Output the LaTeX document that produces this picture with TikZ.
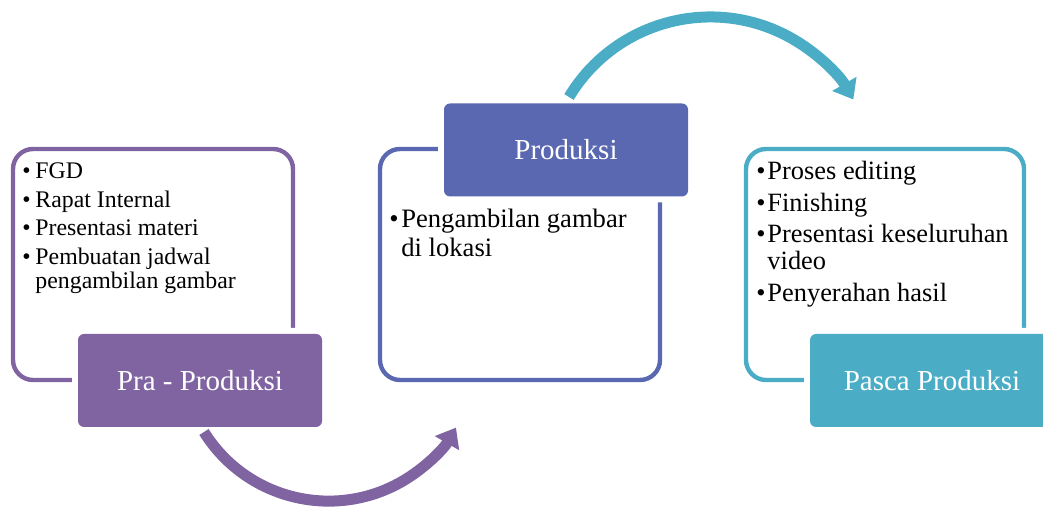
\documentclass[tikz,border=0pt]{standalone}
\usepackage{xcolor}
\usepackage{fontspec}
\setmainfont{Liberation Serif}
\usetikzlibrary{arrows.meta}
\definecolor{praColor}{HTML}{8064A2}
\definecolor{prodColor}{HTML}{5A68B2}
\definecolor{pascaColor}{HTML}{4BACC6}
\newlength{\bulw}
\newcommand{\itm}[1]{\par\hangindent=\bulw\hangafter=1\noindent\makebox[\bulw][l]{\textbullet}#1}
\newcommand{\itemlist}[3]{\parbox[t]{170pt}{\setlength{\parskip}{#1}\setlength{\bulw}{#2}#3}}

\begin{document}
\begin{tikzpicture}[x=0.5pt, y=0.5pt,
  frame/.style = {draw, line width=2.2pt, rounded corners=10pt, minimum width=140pt, minimum height=115.5pt},
  stage/.style = {rounded corners=3pt, text=white, minimum width=122pt, minimum height=46.5pt, font=\fontsize{14.5}{17}\selectfont, preaction={draw=white, line width=6pt}},
  list/.style = {anchor=base west, inner sep=0pt},
  flow/.style = {line width=5.5pt, -{Triangle[width=13.5pt, length=9pt]}}]
\useasboundingbox (0,0) rectangle (1043,507);
\clip (0,0) rectangle (1043,507);

% outlines
\node[frame, draw=praColor] (praFrame) at (153,242.5) {};
\node[frame, draw=prodColor] (prodFrame) at (520,242.5) {};
\node[frame, draw=pascaColor, minimum width=139pt] (pascaFrame) at (885,242.5) {};

% stage boxes
\node[stage, fill=praColor] (pra) at (200,126.5) {Pra - Produksi};
\node[stage, fill=prodColor] (prod) at (566,357) {Produksi};
\node[stage, fill=pascaColor] (pasca) at (932,126.5) {Pasca Produksi};

% lists
\node[list, font=\fontsize{11.9}{12.2}\selectfont] (praList) at (22,328)
  {\itemlist{2pt}{0.55em}{\itm{FGD}\itm{Rapat Internal}\itm{Presentasi materi}\itm{Pembuatan jadwal\newline pengambilan gambar}}};
\node[list, font=\fontsize{13.3}{14.5}\selectfont] (prodList) at (389,279)
  {\itemlist{0pt}{0.45em}{\itm{Pengambilan gambar\newline di lokasi}}};
\node[list, font=\fontsize{13.2}{13.5}\selectfont] (pascaList) at (756,327)
  {\itemlist{2.25pt}{0.42em}{\itm{Proses editing}\itm{Finishing}\itm{Presentasi keseluruhan\newline video}\itm{Penyerahan hasil}}};

% arrows
\coordinate (praOut) at (204,75);
\coordinate (prodOut) at (569,410);
\draw[flow, praColor] (praOut) arc[start angle=212, end angle=330, radius=147];
\draw[flow, pascaColor] (prodOut) arc[start angle=149, end angle=30, radius=165];
\end{tikzpicture}
\end{document}
